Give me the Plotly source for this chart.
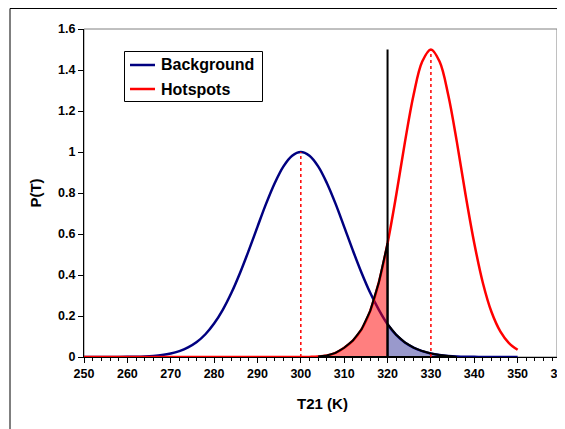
import plotly.graph_objects as go

# ---- data ----
temperature = [250, 252, 254, 256, 258, 260, 262, 264, 266, 268,
               270, 272, 274, 276, 278, 280, 282, 284, 286, 288,
               290, 292, 294, 296, 298, 300, 302, 304, 306, 308,
               310, 312, 314, 316, 318, 320, 322, 324, 326, 328,
               330, 332, 334, 336, 338, 340, 342, 344, 346, 348, 350]
background = [0.0, 0.0, 0.0001, 0.0002, 0.0003, 0.0007, 0.0014, 0.0028, 0.0053, 0.0096,
              0.017, 0.029, 0.047, 0.073, 0.111, 0.163, 0.230, 0.313, 0.411, 0.520,
              0.635, 0.748, 0.849, 0.930, 0.982, 1.0, 0.982, 0.930, 0.849, 0.748,
              0.635, 0.520, 0.411, 0.313, 0.230, 0.160, 0.108, 0.071, 0.046, 0.029,
              0.017, 0.0096, 0.0053, 0.0028, 0.0014, 0.0007, 0.0003, 0.0002, 0.0001, 0.0, 0.0]
hotspots = [0.0, 0.0, 0.0, 0.0, 0.0, 0.0, 0.0, 0.0, 0.0, 0.0,
            0.0, 0.0, 0.0, 0.0, 0.0, 0.0, 0.0, 0.0, 0.0, 0.0,
            0.0, 0.0, 0.0, 0.0, 0.0, 0.0002, 0.0006, 0.002, 0.007, 0.02,
            0.045, 0.08, 0.135, 0.225, 0.365, 0.555, 0.79, 1.047, 1.278, 1.441,
            1.5, 1.441, 1.278, 1.047, 0.79, 0.555, 0.36, 0.218, 0.125, 0.068, 0.035]
series_names = ["Background", "Hotspots"]
series_colors = ["#000080", "#FF0000"]
threshold = 320
threshold_top = 1.5
bg_mean, bg_peak = 300, 1.0
hs_mean, hs_peak = 330, 1.5
red_fill_range = (304, 320)
blue_fill_range = (320, 336)

FONT = "Liberation Sans, Arial, sans-serif"

fig = go.Figure()

for name, vals, col in zip(series_names, [background, hotspots], series_colors):
    fig.add_trace(go.Scatter(x=temperature, y=vals, mode="lines", name=name,
                             line=dict(color=col, width=2.5, shape="spline"),
                             showlegend=False))

# shaded tails
rx = [t for t in temperature if red_fill_range[0] <= t <= red_fill_range[1]]
ry = [h for t, h in zip(temperature, hotspots) if red_fill_range[0] <= t <= red_fill_range[1]]
bx = [t for t in temperature if blue_fill_range[0] <= t <= blue_fill_range[1]]
by = [b for t, b in zip(temperature, background) if blue_fill_range[0] <= t <= blue_fill_range[1]]

fig.add_trace(go.Scatter(x=rx + [rx[-1], rx[0]], y=ry + [0, 0], mode="lines", fill="toself",
                         fillcolor="rgba(255,0,0,0.5)", line=dict(color="black", width=2),
                         showlegend=False, hoverinfo="skip"))
fig.add_trace(go.Scatter(x=bx + [bx[-1], bx[0]], y=by + [0, 0], mode="lines", fill="toself",
                         fillcolor="rgba(0,0,128,0.4)", line=dict(color="black", width=2),
                         showlegend=False, hoverinfo="skip"))

# threshold line
fig.add_trace(go.Scatter(x=[threshold, threshold], y=[0, threshold_top], mode="lines",
                         line=dict(color="black", width=2), showlegend=False, hoverinfo="skip"))
# dotted mean lines
fig.add_trace(go.Scatter(x=[bg_mean, bg_mean], y=[0, bg_peak], mode="lines",
                         line=dict(color="#FF0000", width=1.5, dash="dot"), showlegend=False, hoverinfo="skip"))
fig.add_trace(go.Scatter(x=[hs_mean, hs_mean], y=[0, hs_peak], mode="lines",
                         line=dict(color="#FF0000", width=1.5, dash="dot"), showlegend=False, hoverinfo="skip"))

# page has an 8px body margin, so figure coordinates = screen - 8
OFF = 8
W, H = 565 - OFF, 429 - OFF
L, R, T, B = 84 - OFF, 561 - OFF, 29 - OFF, 357 - OFF
pw, ph = R - L, B - T

def px(xs):
    return (xs - OFF - L) / pw

def py(ys):
    return (B - (ys - OFF)) / ph

shapes = [
    dict(type="rect", xref="paper", yref="paper", x0=0, x1=px(557), y0=0, y1=1,
         line=dict(color="#808080", width=1), layer="below"),
    dict(type="rect", xref="paper", yref="paper", x0=px(10), x1=px(560), y0=py(440), y1=py(8.5),
         line=dict(color="black", width=1), layer="above"),
    # legend box
    dict(type="rect", xref="paper", yref="paper", x0=px(124.5), x1=px(262.5), y0=py(101.5), y1=py(51.5),
         line=dict(color="black", width=1), fillcolor="white", layer="above"),
]
annotations = []
for i, (name, col) in enumerate(zip(series_names, series_colors)):
    yy = 65 + 24 * i
    shapes.append(dict(type="line", xref="paper", yref="paper", x0=px(130), x1=px(155),
                       y0=py(yy), y1=py(yy), line=dict(color=col, width=2.5), layer="above"))
    annotations.append(dict(text=name, xref="paper", yref="paper", x=px(159), y=py(yy),
                            xanchor="left", yanchor="middle", showarrow=False,
                            font=dict(family=FONT, size=16, weight="bold", color="black")))

fig.update_layout(
    width=W, height=H,
    margin=dict(l=L, r=W - R, t=T, b=H - B, pad=0),
    paper_bgcolor="white", plot_bgcolor="white",
    font=dict(family=FONT, color="black"),
    showlegend=False,
    xaxis=dict(range=[250, 360], tickmode="linear", tick0=250, dtick=10,
               ticks="outside", ticklen=5, tickcolor="black", tickwidth=1,
               minor=dict(dtick=2, ticks="outside", ticklen=3, tickcolor="black"),
               showgrid=False, zeroline=False, showline=True, linecolor="black", linewidth=1,
               tickfont=dict(family=FONT, size=12.5, weight="bold"),
               ticklabeloverflow="allow",
               title=dict(text="T21 (K)", font=dict(family=FONT, size=15, weight="bold"), standoff=18),
               automargin=False, fixedrange=True),
    yaxis=dict(range=[0, 1.6], tickmode="linear", tick0=0, dtick=0.2,
               ticks="outside", ticklen=5, tickcolor="black", tickwidth=1,
               showgrid=False, zeroline=False, showline=True, linecolor="black", linewidth=1,
               tickfont=dict(family=FONT, size=12.5, weight="bold"),
               title=dict(text="P(T)", font=dict(family=FONT, size=15, weight="bold"), standoff=12),
               automargin=False, fixedrange=True),
    shapes=shapes,
    annotations=annotations,
)

fig.write_html("out.html")
